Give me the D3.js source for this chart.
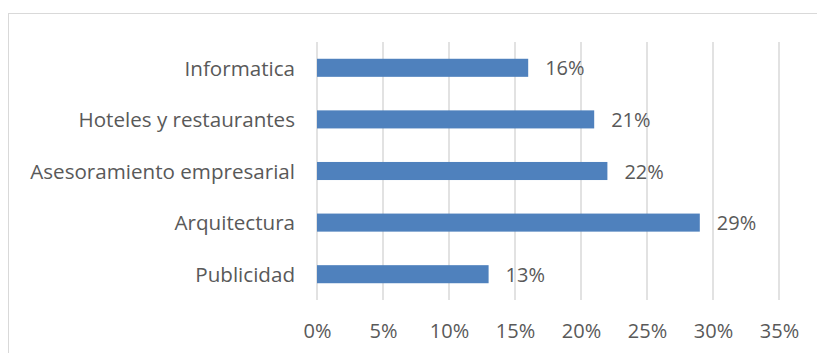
<!DOCTYPE html>
<html><head><meta charset="utf-8">
<script src="https://cdn.jsdelivr.net/npm/d3@7"></script>
<style>body{margin:0;background:#fff;}svg{display:block;}</style>
</head><body>
<script>
const categories = ["Informatica","Hoteles y restaurantes","Asesoramiento empresarial","Arquitectura","Publicidad"];
const values = [16, 21, 22, 29, 13];
const tickValues = [0,5,10,15,20,25,30,35];

const W = 817, H = 353;
const svg = d3.select("body").append("svg").attr("width", W).attr("height", H);
const font = "'Open Sans', Lato, sans-serif";
const textColor = "#595959";
const fs = 20;
const fsCat = 20.6;

svg.append("rect").attr("x", 8.5).attr("y", 13.5).attr("width", 820).attr("height", 360)
  .attr("fill", "none").attr("stroke", "#d9d9d9").attr("stroke-width", 1);

const x = d3.scaleLinear().domain([0, 35]).range([317, 779]);
const y = d3.scaleBand().domain(categories).range([42, 300]).paddingInner(0.65).paddingOuter(0.325);

const grid = svg.append("g");
grid.selectAll("line").data(tickValues).join("line")
  .attr("x1", d => x(d)).attr("x2", d => x(d))
  .attr("y1", 42).attr("y2", 300)
  .attr("stroke", "#d9d9d9").attr("stroke-width", 1.5);

svg.append("g").selectAll("rect").data(values).join("rect")
  .attr("x", x(0)).attr("y", (d,i) => y(categories[i]))
  .attr("width", d => x(d) - x(0)).attr("height", y.bandwidth())
  .attr("fill", "#4f81bd");

svg.append("g").selectAll("text").data(values).join("text")
  .attr("x", d => x(d) + 17).attr("y", (d,i) => y(categories[i]) + y.bandwidth()/2)
  .attr("dy", "0.38em").attr("font-family", font).attr("font-size", fs).attr("fill", textColor)
  .text(d => d + "%");

const yAxis = d3.axisLeft(y).tickSize(0).tickPadding(22);
const gy = svg.append("g").attr("transform", `translate(${x(0)},0)`).call(yAxis);
gy.select(".domain").remove();
gy.selectAll("text").attr("font-family", font).attr("font-size", fsCat).attr("fill", textColor).attr("dy", "0.38em");

const xAxis = d3.axisBottom(x).tickValues(tickValues).tickFormat(d => d + "%").tickSize(0).tickPadding(24);
const gx = svg.append("g").attr("transform", "translate(0,300)").call(xAxis);
gx.select(".domain").remove();
gx.selectAll("text").attr("font-family", font).attr("font-size", fs).attr("fill", textColor);
</script>
</body></html>
